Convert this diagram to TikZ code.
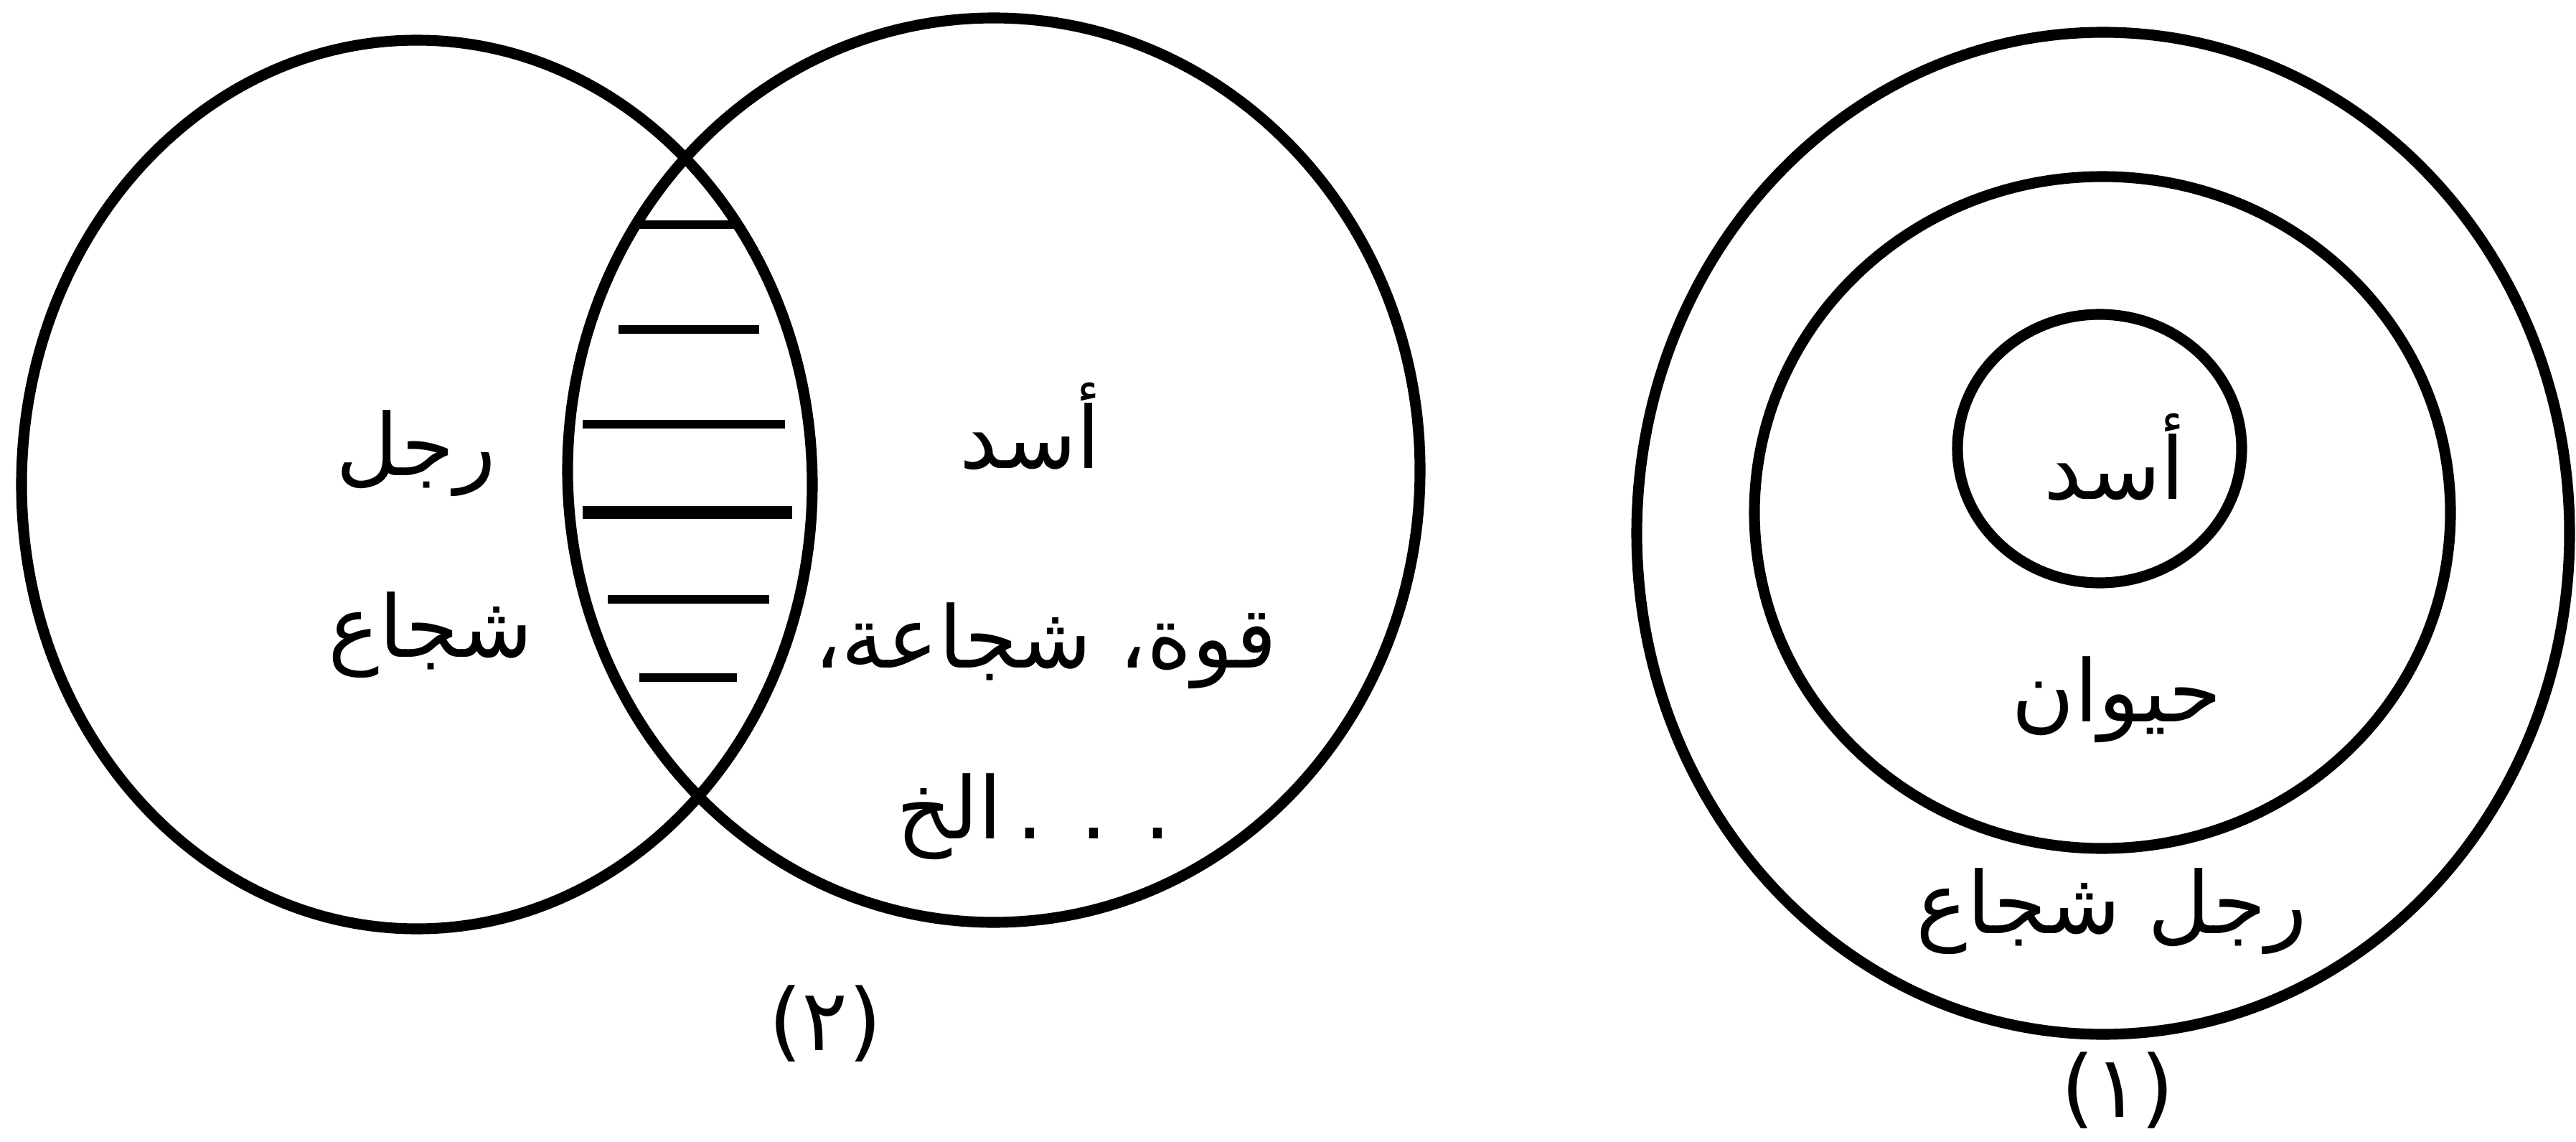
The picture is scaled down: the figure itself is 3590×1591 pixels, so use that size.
\documentclass[tikz,border=0pt]{standalone}
\usepackage{fontspec}
\newfontfamily\arabicfont[Script=Arabic]{DejaVu Sans}
\TeXXeTstate=1
\begin{document}
\begin{tikzpicture}[x=0.01cm,y=-0.01cm,
  ring/.style={line width=4.3pt},
  hatchline/.style={line width=3.6pt},
  boldhatch/.style={line width=5.4pt},
  lbl/.style={inner sep=0pt, anchor=base, font=\arabicfont\fontsize{34}{40}\selectfont}]
\useasboundingbox (0,0) rectangle (3590,1591);
% Venn diagram (2)
\draw[ring] (581,675) ellipse [x radius=551, y radius=619];
\draw[ring] (1385,655) ellipse [x radius=594, y radius=630];
% hatching in the intersection
\draw[hatchline] (884,313) -- (1027,313);
\draw[hatchline] (862,459) -- (1058,459);
\draw[hatchline] (812,591) -- (1094,591);
\draw[boldhatch] (812,714) -- (1104,714);
\draw[hatchline] (847,835) -- (1072,835);
\draw[hatchline] (891,944) -- (1027,944);
\node[lbl] (rajul) at (580,662) {\beginR رجل\endR};
\node[lbl] (shujaa) at (600,915) {\beginR شجاع\endR};
\node[lbl] (asadA) at (1436,652) {\beginR أسد\endR};
\node[lbl] (quwwa) at (1457,930) {\beginR قوة، شجاعة،\endR};
\node[lbl] (ilakh) at (1441,1168) {\beginR . . .\,الخ\endR};
\node[lbl] (two) at (1150,1463) {\beginR (٢)\endR};
% Concentric diagram (1)
\draw[ring] (2931,743) ellipse [x radius=650, y radius=698];
\draw[ring] (2930,714) ellipse [x radius=485, y radius=468];
\draw[ring] (2926,625) ellipse [x radius=198, y radius=187];
\node[lbl] (asadB) at (2947,695) {\beginR أسد\endR};
\node[lbl] (hayawan) at (2950,1005) {\beginR حيوان\endR};
\node[lbl] (rajulshujaa) at (2943,1300) {\beginR رجل شجاع\endR};
\node[lbl] (one) at (2951,1556) {\beginR (١)\endR};
\end{tikzpicture}
\end{document}
